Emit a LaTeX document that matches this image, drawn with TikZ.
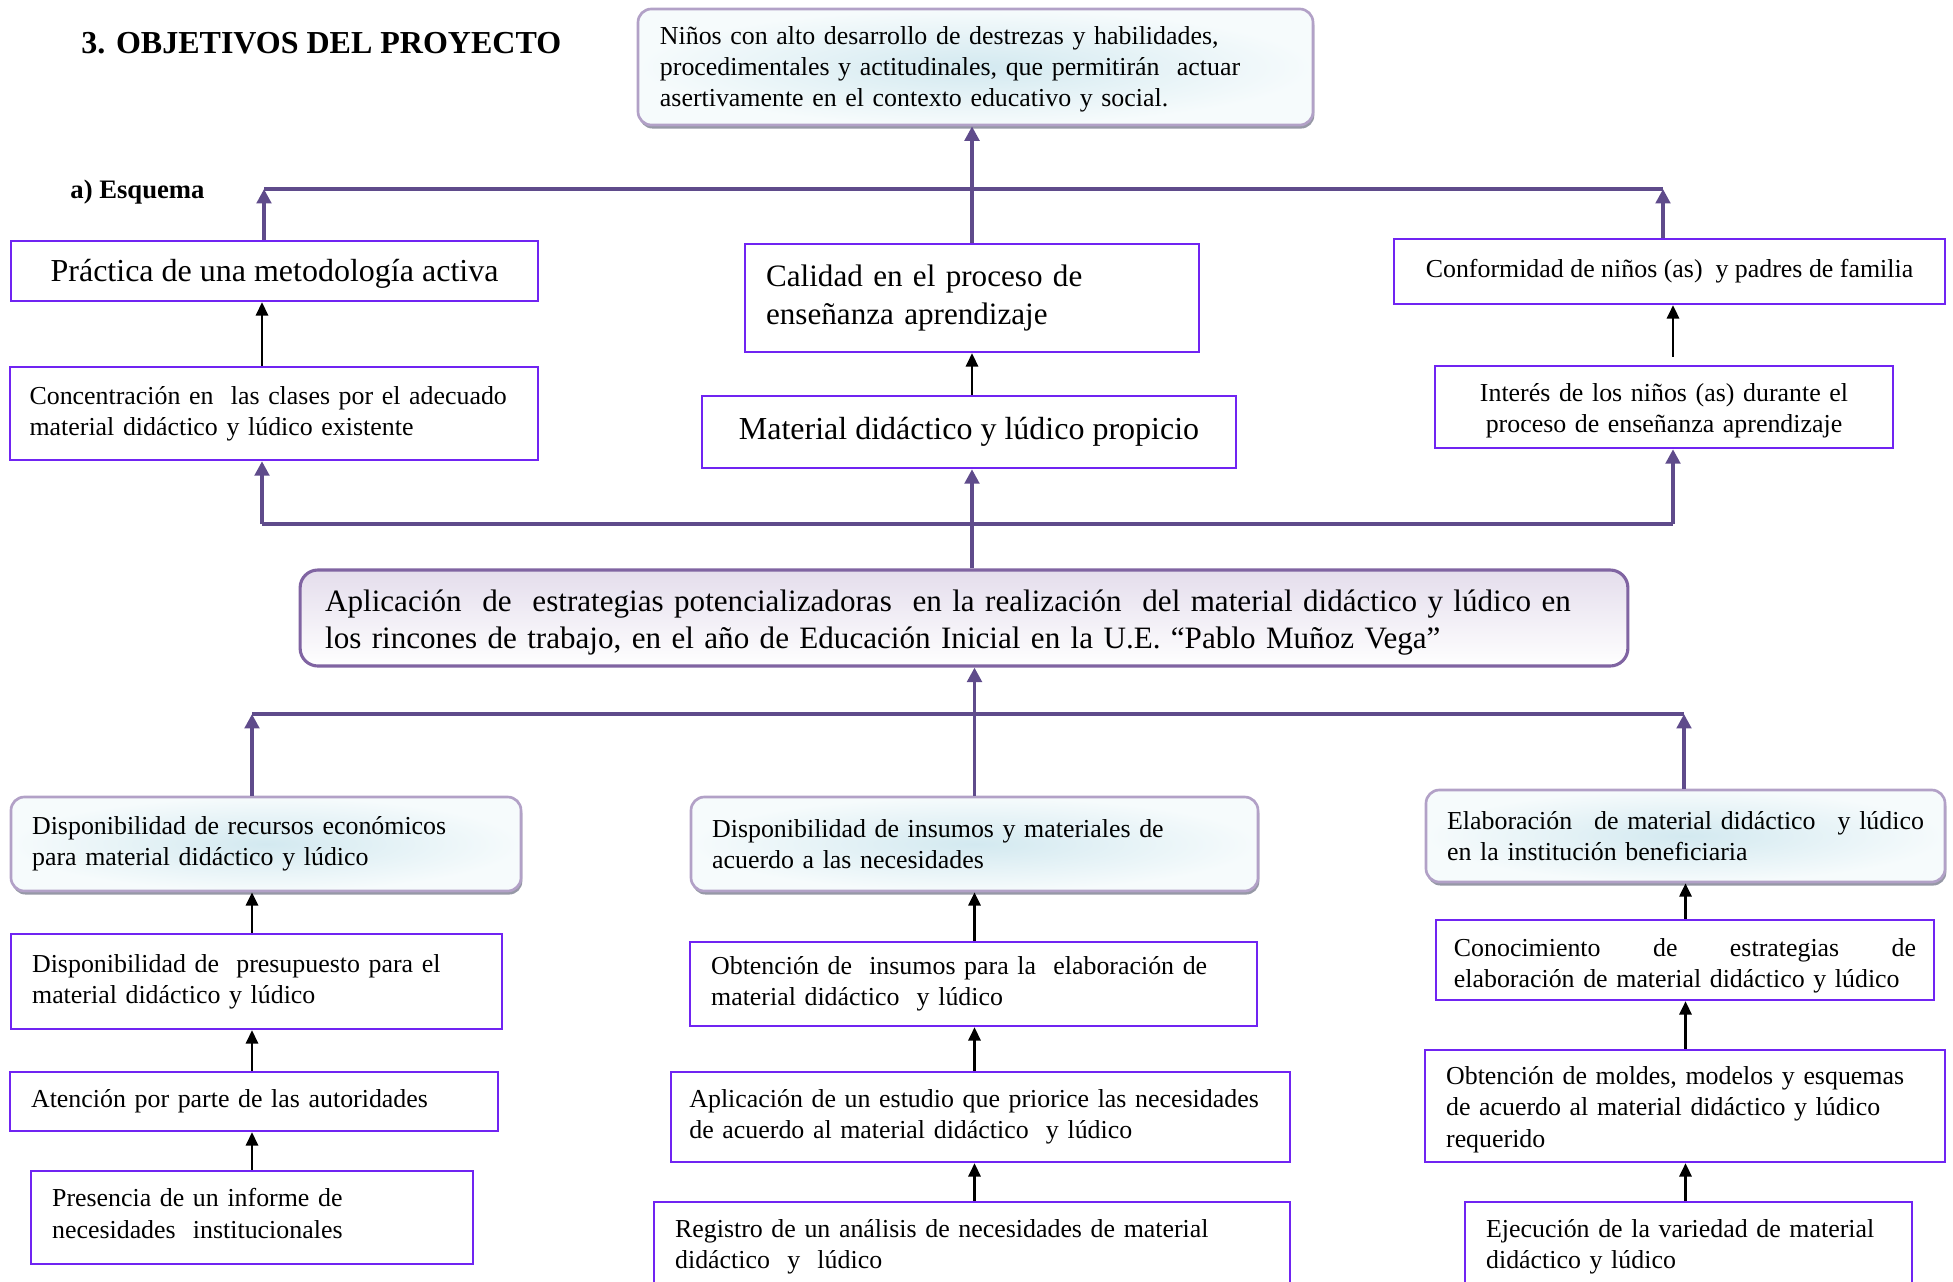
\documentclass[tikz,border=0pt]{standalone}
\usepackage{fontspec}
\setmainfont{Liberation Serif}
\usepackage{tikz}
\usetikzlibrary{arrows.meta,shadows,calc}
\definecolor{cajalila}{RGB}{112,36,242}
\definecolor{bordesuave}{RGB}{178,161,199}
\definecolor{sombra}{RGB}{150,152,166}
\definecolor{flecha}{RGB}{95,75,139}
\definecolor{centro}{RGB}{211,233,240}
\definecolor{orilla}{RGB}{246,251,252}
\definecolor{bordemain}{RGB}{128,100,162}
\definecolor{lavanda}{RGB}{228,221,236}
\hyphenpenalty=10000
\exhyphenpenalty=10000

\begin{document}
\begin{tikzpicture}[x=0.45pt,y=-0.45pt,
  font=\fontsize{11.65}{14}\selectfont,
  grande/.style={font=\fontsize{14.4}{17}\selectfont},
  medio/.style={font=\fontsize{14}{16.8}\selectfont},
  caja/.style={draw=cajalila,line width=1.1pt,inner xsep=9.5pt,inner ysep=3pt,align=left},
  suave/.style={draw=bordesuave,line width=1.2pt,rounded corners=6pt,inner xsep=9.5pt,inner ysep=3pt,align=left,
    inner color=centro,outer color=orilla,
    drop shadow={shadow xshift=0.6pt,shadow yshift=-1.6pt,fill=sombra,opacity=1}},
  enlace/.style={draw=flecha,line width=1.6pt,-{Triangle[width=6.5pt,length=6.5pt]}},
  linea/.style={draw=flecha,line width=1.6pt},
  sube/.style={draw=black,line width=1.1pt,-{Triangle[width=5.5pt,length=6pt]}}]
\useasboundingbox (0,0) rectangle (1953,1282);

\node[anchor=base west,inner sep=0pt,font=\fontsize{14.4}{17}\selectfont\bfseries] (titulo) at (81,54) {3. OBJETIVOS DEL PROYECTO};
\node[anchor=base west,inner sep=0pt,font=\fontsize{12}{14}\selectfont\bfseries] (esquema) at (70,198) {a) Esquema};

\node[suave,minimum width=303.75pt,minimum height=52.2pt,text width=284pt,text height=10.2pt] (meta) at (975.5,67)
  {Niños con alto desarrollo de destrezas y habilidades,\\procedimentales y actitudinales, que permitirán\ \ actuar\\asertivamente en el contexto educativo y social.};

\node[caja,grande,align=center,minimum width=237.15pt,minimum height=27pt,text height=12.4pt] (practica) at (274.5,271)
  {Práctica de una metodología activa};
\node[caja,medio,text width=185.3pt,minimum height=48.6pt] (calidad) at (972,298)
  {Calidad en el proceso de\\enseñanza aprendizaje};
\node[caja,align=center,minimum width=247.95pt,minimum height=29.25pt] (conformidad) at (1669.5,271.5)
  {Conformidad de niños (as)\ \ y padres de familia};

\node[caja,inner xsep=8.8pt,text width=220pt,minimum height=41.85pt] (concentracion) at (274,413.5)
  {Concentración en\ \ las clases por el adecuado\\material didáctico y lúdico existente};
\node[caja,grande,align=center,minimum width=240.3pt,minimum height=32.4pt] (material) at (969,432)
  {Material didáctico y lúdico propicio};
\node[caja,align=center,text width=187.1pt,minimum height=36.9pt,text height=11.4pt] (interes) at (1664,407)
  {Interés de los niños (as) durante el\\proceso de enseñanza aprendizaje};

\node[draw=bordemain,line width=1.4pt,rounded corners=8pt,top color=lavanda,bottom color=white,
  medio,align=left,inner xsep=11.25pt,text width=575pt,text height=14pt,minimum height=43.2pt] (aplicacion) at (964,618)
  {Aplicación\ \ de\ \ estrategias potencializadoras\ \ en la realización\ \ del material didáctico y lúdico en\\los rincones de trabajo, en el año de Educación Inicial en la U.E. “Pablo Muñoz Vega”};

\node[suave,text width=210.5pt,minimum height=42.3pt] (recursos) at (266,844)
  {Disponibilidad de recursos económicos\\para material didáctico y lúdico};
\node[caja,text width=201.95pt,minimum height=42.75pt] (presupuesto) at (256.5,981.5)
  {Disponibilidad de\ \ presupuesto para el\\material didáctico y lúdico};
\node[caja,text width=200.6pt,minimum height=26.55pt] (atencion) at (254,1101.5)
  {Atención por parte de las autoridades};
\node[caja,text width=179.9pt,minimum height=41.85pt,text height=4.6pt] (informe) at (252,1217.5)
  {Presencia de un informe de\\necesidades\ \ institucionales};

\node[suave,text width=236.15pt,minimum height=42.3pt] (insumos) at (974.5,844)
  {Disponibilidad de insumos y materiales de\\acuerdo a las necesidades};
\node[caja,text width=236.15pt,minimum height=37.8pt] (obtencion) at (973.5,984)
  {Obtención de\ \ insumos para la\ \ elaboración de\\material didáctico\ \ y lúdico};
\node[caja,inner xsep=8.3pt,text width=262pt,minimum height=40.5pt] (estudio) at (980.5,1117)
  {Aplicación de un estudio que priorice las necesidades\\de acuerdo al material didáctico\ \ y lúdico};
\node[caja,text width=267.2pt,minimum height=40.5pt] (registro) at (972,1247)
  {Registro de un análisis de necesidades de material\\didáctico\ \ y\ \ lúdico};

\node[suave,text width=214.55pt,minimum height=41.4pt] (elaboracion) at (1685.5,836)
  {Elaboración\hfill de material didáctico\hfill y lúdico\\en la institución beneficiaria};
\node[caja,inner xsep=8pt,text width=208pt,minimum height=34.2pt,text height=13.5pt] (conocimiento) at (1685,960)
  {Conocimiento\hfill de\hfill estrategias\hfill de\\elaboración de material didáctico y lúdico};
\node[caja,text width=215pt,minimum height=50.4pt,text height=11.4pt] (moldes) at (1685,1106)
  {Obtención de moldes, modelos y esquemas\\de acuerdo al material didáctico y lúdico\\requerido};
\node[caja,text width=182.15pt,minimum height=40.5pt] (ejecucion) at (1688.5,1247)
  {Ejecución de la variedad de material\\didáctico y lúdico};

\coordinate (ta) at (264,189);
\coordinate (tb) at (1663,189);
\coordinate (ma) at (262,524);
\coordinate (mb) at (1673,524);
\coordinate (ba) at (252,714);
\coordinate (bb) at (1684,714);

\draw[linea] (ta) -- (tb);
\draw[enlace] (ta |- practica.north) -- (ta);
\draw[enlace] (tb |- conformidad.north) -- (tb);
\draw[enlace] (calidad.north) -- (calidad.north |- meta.south);

\draw[linea] (ma) -- (mb);
\draw[enlace] (ma) -- (ma |- concentracion.south);
\draw[enlace] (mb) -- (mb |- interes.south);
\draw[enlace] (calidad.south |- aplicacion.north) -- (calidad.south |- material.south);

\draw[linea] (ba) -- (bb);
\draw[enlace] (ba |- recursos.north) -- (ba);
\draw[enlace] (bb |- elaboracion.north) -- (bb);
\draw[enlace] (insumos.north) -- (insumos.north |- aplicacion.south);

\draw[sube] (ma |- concentracion.north) -- (ma |- practica.south);
\draw[sube] (calidad.south |- material.north) -- (calidad.south);
\draw[sube] ($(mb |- interes.north)+(0,-8)$) -- (mb |- conformidad.south);

\draw[sube] (ba |- presupuesto.north) -- (ba |- recursos.south);
\draw[sube] (ba |- atencion.north) -- (ba |- presupuesto.south);
\draw[sube] (ba |- informe.north) -- (ba |- atencion.south);

\draw[sube] (insumos.south |- obtencion.north) -- (insumos.south);
\draw[sube] (insumos.south |- estudio.north) -- (insumos.south |- obtencion.south);
\draw[sube] (insumos.south |- registro.north) -- (insumos.south |- estudio.south);

\draw[sube] (elaboracion.south |- conocimiento.north) -- (elaboracion.south);
\draw[sube] (elaboracion.south |- moldes.north) -- (elaboracion.south |- conocimiento.south);
\draw[sube] (elaboracion.south |- ejecucion.north) -- (elaboracion.south |- moldes.south);
\end{tikzpicture}
\end{document}
